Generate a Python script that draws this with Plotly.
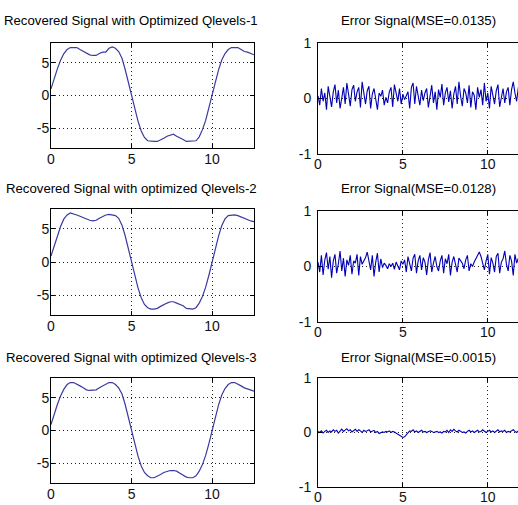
import plotly.graph_objects as go

# ---------------- data ----------------
rec_t = [round(i * 0.2, 1) for i in range(64)]  # 0 .. 12.6

rec1 = [1.0, 2.6, 4.1, 5.4, 6.4, 7.0, 7.3, 7.3, 7.3, 7.0,
        6.7, 6.4, 6.2, 6.1, 6.1, 6.4, 6.6, 6.6, 7.2, 7.4,
        7.2, 6.7, 5.7, 4.0, 2.0, 0.0, -2.0, -3.9, -5.4, -6.4,
        -6.9, -7.0, -7.0, -7.0, -6.8, -6.5, -6.2, -6.0, -5.9, -6.2,
        -6.4, -6.7, -7.0, -7.0, -7.0, -6.9, -6.3, -5.2, -3.8, -2.0,
        0.0, 2.0, 3.9, 5.4, 6.4, 7.0, 7.3, 7.3, 7.3, 7.0,
        6.7, 6.6, 6.4, 6.2]
rec2 = [0.9, 2.5, 4.1, 5.4, 6.5, 7.1, 7.4, 7.3, 7.1, 6.9,
        6.7, 6.4, 6.3, 6.2, 6.3, 6.6, 6.9, 7.1, 7.2, 7.1,
        7.0, 6.6, 5.6, 4.0, 2.0, 0.0, -2.0, -3.9, -5.4, -6.4,
        -6.9, -7.1, -7.1, -7.0, -6.7, -6.4, -6.2, -6.0, -6.0, -6.2,
        -6.4, -6.6, -7.0, -7.1, -7.1, -6.9, -6.2, -5.2, -3.8, -2.0,
        0.0, 2.0, 3.9, 5.5, 6.5, 7.0, 7.1, 7.1, 7.0, 6.8,
        6.5, 6.3, 6.2, 6.1]
rec3 = [0.9, 2.5, 4.0, 5.3, 6.3, 7.0, 7.3, 7.3, 7.1, 6.8,
        6.5, 6.2, 6.1, 6.1, 6.2, 6.5, 6.8, 7.1, 7.3, 7.3,
        7.0, 6.5, 5.6, 4.0, 2.0, 0.0, -2.0, -3.9, -5.4, -6.4,
        -6.9, -7.2, -7.2, -7.0, -6.7, -6.4, -6.2, -6.1, -6.1, -6.2,
        -6.5, -6.8, -7.1, -7.2, -7.2, -6.9, -6.2, -5.2, -3.8, -2.0,
        0.0, 2.0, 3.9, 5.4, 6.4, 7.0, 7.3, 7.3, 7.1, 6.8,
        6.5, 6.3, 6.1, 6.0]

err_t = [round(i * 0.1, 1) for i in range(126)]  # 0 .. 12.5

err1 = [0.05, -0.12, 0.18, -0.05, 0.10, -0.20, 0.22, 0.02, -0.15, 0.12,
        0.25, -0.08, 0.15, -0.18, 0.05, 0.20, -0.10, 0.28, 0.08, -0.14,
        0.16, 0.24, -0.05, 0.12, 0.20, -0.16, 0.30, 0.05, -0.10, 0.14,
        0.22, -0.18, 0.08, 0.18, -0.06, -0.20, 0.10, 0.04, 0.15, -0.12,
        0.02, -0.08, 0.12, 0.20, -0.15, 0.25, 0.10, -0.05, 0.18, -0.10,
        0.08, -0.02, 0.05, 0.12, -0.18, 0.20, 0.28, -0.10, 0.22, 0.05,
        -0.12, 0.15, -0.04, 0.10, 0.18, -0.16, 0.06, 0.24, -0.08, 0.12,
        -0.20, 0.16, 0.02, 0.26, -0.12, 0.10, 0.20, -0.06, 0.14, -0.18,
        0.08, 0.22, -0.10, 0.30, 0.04, -0.14, 0.18, 0.10, -0.08, 0.24,
        -0.16, 0.12, 0.06, -0.20, 0.20, 0.02, 0.16, -0.12, 0.28, -0.05,
        0.10, -0.18, 0.22, 0.08, -0.10, 0.14, 0.25, -0.15, 0.05, 0.18,
        -0.08, 0.12, 0.20, -0.12, 0.16, 0.30, 0.10, -0.05, 0.20, -0.14,
        0.08, 0.22, -0.10, 0.15, 0.04, -0.12]
err2 = [0.08, -0.10, 0.20, -0.15, 0.12, 0.25, -0.05, 0.18, -0.20, 0.10,
        0.22, -0.12, 0.05, 0.28, -0.08, 0.15, -0.18, 0.12, 0.02, 0.20,
        -0.14, 0.10, 0.06, 0.22, -0.16, 0.18, 0.04, 0.10, 0.16, 0.26,
        0.12, -0.06, 0.20, -0.18, 0.08, 0.24, -0.10, 0.14, -0.02, 0.06,
        0.02, -0.04, 0.05, 0.00, 0.06, -0.05, 0.08, 0.02, -0.06, 0.10,
        0.04, 0.12, -0.10, 0.18, 0.05, -0.08, 0.15, 0.22, -0.12, 0.10,
        0.20, -0.06, 0.16, 0.08, -0.15, 0.12, 0.25, -0.10, 0.06, 0.18,
        0.00, -0.08, 0.10, 0.20, -0.12, 0.14, 0.05, 0.22, -0.16, 0.08,
        0.18, 0.02, -0.10, 0.15, 0.10, 0.06, -0.04, 0.12, 0.20, -0.08,
        0.05, 0.00, 0.08, 0.14, 0.20, 0.26, 0.18, 0.08, -0.06, 0.10,
        0.22, -0.14, 0.16, 0.06, -0.10, 0.18, 0.24, -0.12, 0.08, 0.14,
        0.28, 0.04, -0.08, 0.20, 0.10, -0.16, 0.22, 0.06, 0.15, -0.10,
        0.12, 0.20, -0.06, 0.08, 0.16, -0.04]
err3 = [0.02, 0.00, 0.03, -0.01, 0.02, 0.04, 0.00, 0.03, 0.01, 0.05,
        0.02, 0.04, -0.01, 0.03, 0.06, 0.02, 0.04, 0.07, 0.03, 0.05,
        0.01, 0.04, 0.06, 0.02, 0.05, 0.03, 0.00, 0.04, 0.02, 0.03,
        0.05, 0.01, 0.02, 0.04, 0.00, 0.02, -0.02, -0.01, 0.01, 0.00,
        0.02, 0.01, 0.03, 0.00, 0.02, 0.01, -0.01, -0.03, -0.05, -0.07,
        -0.09, -0.08, -0.04, 0.00, 0.03, 0.02, 0.05, 0.01, 0.03, 0.00,
        0.02, 0.04, 0.01, 0.02, 0.00, 0.01, 0.03, 0.02, 0.00, 0.01,
        0.02, 0.00, 0.01, -0.01, 0.02, 0.01, 0.04, 0.00, 0.05, 0.02,
        0.06, 0.03, 0.01, 0.04, 0.02, 0.00, 0.01, -0.01, 0.02, 0.04,
        0.01, 0.03, 0.00, 0.02, 0.04, 0.01, 0.02, 0.05, 0.03, 0.00,
        0.02, 0.04, 0.01, 0.03, 0.00, 0.02, 0.05, 0.01, 0.03, 0.02,
        0.04, 0.00, 0.02, 0.01, 0.03, 0.05, 0.02, 0.00, 0.03, 0.01,
        0.02, 0.04, 0.01, 0.03, 0.00, 0.02]

left_titles = ["Recovered Signal with Optimized Qlevels-1",
               "Recovered Signal with optimized Qlevels-2",
               "Recovered Signal with optimized Qlevels-3"]
right_titles = ["Error Signal(MSE=0.0135)",
                "Error Signal(MSE=0.0128)",
                "Error Signal(MSE=0.0015)"]
left_yticks = [-5, 0, 5]
left_yticklabels = ["-5", "0", "5"]
right_yticks = [-1, 0, 1]
right_yticklabels = ["-1", "0", "1"]
xticks = [0, 5, 10]
xticklabels = ["0", "5", "10"]

# ---------------- layout ----------------
W, H = 518, 505
FONT = "Liberation Sans Narrow, Arial Narrow, Liberation Sans, Arial"

def px_x(a, b):
    return [a / W, b / W]

def px_y(top, bot):
    return [1 - bot / H, 1 - top / H]

left_x = px_x(51, 254)
right_x = px_x(318, 518)
left_rows = [px_y(43, 148), px_y(209, 315), px_y(378, 483)]
right_rows = [px_y(43, 154), px_y(211, 322), px_y(378, 487)]
title_y = [20, 188, 357]

fig = go.Figure()
layout = dict(width=W, height=H, margin=dict(l=0, r=0, t=0, b=0, pad=0),
              paper_bgcolor="white", plot_bgcolor="white", showlegend=False,
              font=dict(family=FONT, size=14, color="black"))

rec = [rec1, rec2, rec3]
err = [err1, err2, err3]
annotations = []

axis_common = dict(showline=True, linecolor="black", linewidth=1,
                   ticks="inside", ticklen=4, tickcolor="black",
                   showgrid=True, gridcolor="#222222", griddash="1px,3px", gridwidth=1,
                   zeroline=False, automargin=False, ticklabelstandoff=-2,
                   tickfont=dict(family=FONT, size=14, color="#111111"))

for i in range(3):
    li = 2 * i + 1
    ri = 2 * i + 2
    lx = "x" if li == 1 else f"x{li}"
    ly = "y" if li == 1 else f"y{li}"
    rx, ry = f"x{ri}", f"y{ri}"
    fig.add_trace(go.Scatter(x=rec_t, y=rec[i], mode="lines", xaxis=lx, yaxis=ly,
                             line=dict(color="#3a3aa0", width=1.2)))
    fig.add_trace(go.Scatter(x=err_t, y=err[i], mode="lines", xaxis=rx, yaxis=ry,
                             line=dict(color="#0000b4", width=1.1)))
    kx = "xaxis" if li == 1 else f"xaxis{li}"
    ky = "yaxis" if li == 1 else f"yaxis{li}"
    layout[kx] = dict(axis_common, domain=left_x, range=[0, 12.6], anchor=ly,
                      tickvals=xticks, ticktext=xticklabels, mirror="ticks")
    layout[ky] = dict(axis_common, domain=left_rows[i], range=[-8, 8], anchor=lx,
                      tickvals=left_yticks, ticktext=left_yticklabels, mirror="ticks")
    layout[f"xaxis{ri}"] = dict(axis_common, domain=right_x, range=[0, 11.78], anchor=ry,
                                tickvals=xticks, ticktext=xticklabels, mirror="ticks",
                                ticklabelstandoff=-3)
    layout[f"yaxis{ri}"] = dict(axis_common, domain=right_rows[i], range=[-1, 1], anchor=rx,
                                tickvals=right_yticks, ticktext=right_yticklabels, mirror=False,
                                ticklabelstandoff=3)
    annotations.append(dict(text=left_titles[i], x=131 / W, y=1 - title_y[i] / H,
                            xref="paper", yref="paper", showarrow=False,
                            xanchor="center", yanchor="middle",
                            font=dict(family=FONT, size=13.2, color="black")))
    annotations.append(dict(text=right_titles[i], x=418 / W, y=1 - title_y[i] / H,
                            xref="paper", yref="paper", showarrow=False,
                            xanchor="center", yanchor="middle",
                            font=dict(family=FONT, size=13.2, color="black")))

layout["annotations"] = annotations
fig.update_layout(**layout)
fig.write_html("out.html", config={"displayModeBar": False},
               post_script="document.body.style.margin='0px';document.body.style.overflow='hidden';")
